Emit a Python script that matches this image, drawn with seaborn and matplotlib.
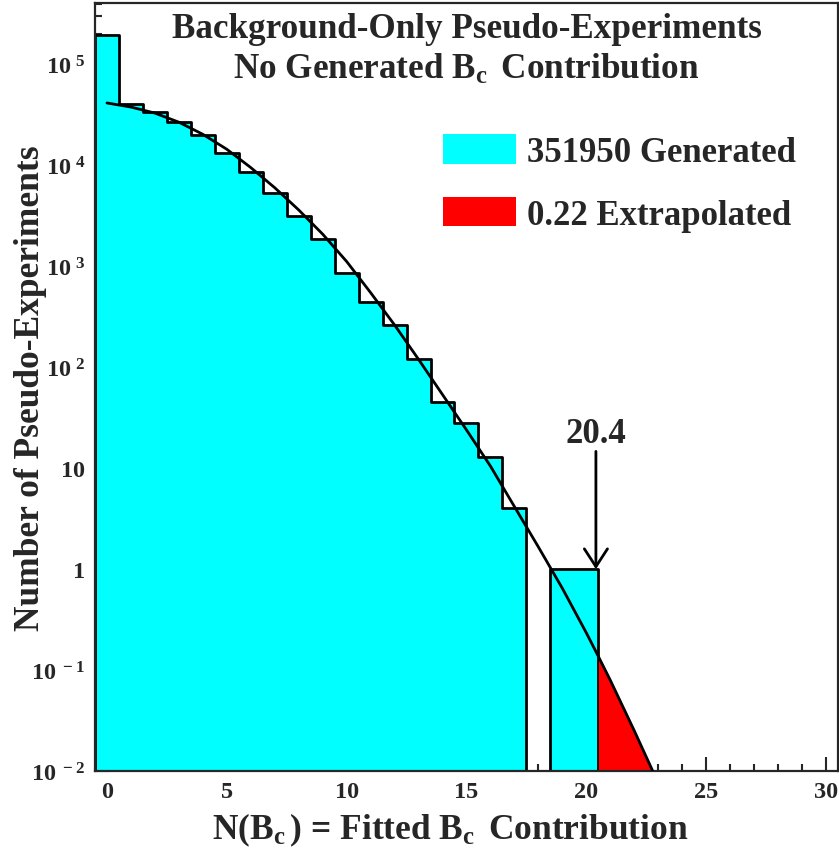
import numpy as np
import pandas as pd
import matplotlib
matplotlib.use("Agg")
import matplotlib.pyplot as plt
from matplotlib.patches import Patch
from matplotlib.ticker import FixedLocator, LogLocator, MultipleLocator, NullFormatter
import seaborn as sns

# --- data ---
# pseudo-experiment histogram, one bin per integer value of N(Bc)
bin_centers = list(range(0, 21))
counts = [194817, 41100, 34300, 27300, 20300, 13200, 8730, 5400, 3130, 1890,
          870, 440, 261, 120, 45, 28, 13, 4, 0, 1, 1]

# fitted curve (read at integer points)
fit_x = [0, 1, 2, 3, 4, 5, 6, 7, 8, 9, 10, 11, 12, 13, 14, 15, 16, 17, 18,
         19, 20, 20.5, 21, 22, 22.77]
fit_y = [41700, 38000, 33100, 26900, 20400, 14500, 9550, 6030, 3630, 2090,
         1120, 550, 263, 120, 53.7, 24.0, 10.5, 4.17, 1.66,
         0.646, 0.234, 0.137, 0.0794, 0.0251, 0.01]

cut_value = 20.4
n_generated = 351950
n_extrapolated = 0.22

xtick_vals = [0, 5, 10, 15, 20, 25, 30]
ytick_vals = [1e-2, 1e-1, 1, 10, 1e2, 1e3, 1e4, 1e5]
ytick_labels = [r"$10^{\ -2}$", r"$10^{\ -1}$", r"$1\ \ $", r"$10\ \ $",
                r"$10^{\ 2}$", r"$10^{\ 3}$", r"$10^{\ 4}$", r"$10^{\ 5}$"]

df = pd.DataFrame({"n": bin_centers, "count": counts})

# --- style ---
sns.set_style("ticks")
plt.rcParams["font.family"] = ["Liberation Serif", "DejaVu Serif"]
plt.rcParams["font.weight"] = "bold"
plt.rcParams["mathtext.fontset"] = "custom"
plt.rcParams["mathtext.bf"] = "Liberation Serif:bold"
plt.rcParams["mathtext.rm"] = "Liberation Serif:bold"
plt.rcParams["mathtext.it"] = "Liberation Serif:bold"
plt.rcParams["mathtext.default"] = "bf"

fig = plt.figure(figsize=(8.39, 8.54), dpi=100)
ax = fig.add_axes([0.1132, 0.096, 0.8856, 0.8993])
ax.set_yscale("log")

sns.histplot(data=df, x="n", weights="count", discrete=True, element="step", fill=True,
             color="cyan", alpha=1, edgecolor="black", linewidth=2, ax=ax)

# extrapolated tail beyond the observed value
tail_x = [x for x in fit_x if x >= 20.5]
tail_y = [y for x, y in zip(fit_x, fit_y) if x >= 20.5]
ax.fill_between(tail_x, tail_y, 0.01, color="red", lw=0, zorder=2)

sns.lineplot(x=fit_x, y=fit_y, color="black", lw=2, ax=ax, zorder=3)

ax.annotate("", xy=(cut_value, 1), xytext=(cut_value, 14.7),
            arrowprops=dict(arrowstyle="->,head_length=0.4,head_width=0.26",
                            lw=2, color="black", mutation_scale=32,
                            shrinkA=0, shrinkB=0))
ax.text(cut_value, 18.1, f"{cut_value}", ha="center", va="baseline", fontsize=25,
        fontweight="bold")

ax.set_xlim(-0.5, 30.5)
ax.set_ylim(0.01, 4.08e5)

ax.xaxis.set_major_locator(FixedLocator(xtick_vals))
ax.set_xticklabels([str(v) for v in xtick_vals])
ax.xaxis.set_minor_locator(MultipleLocator(1))
ax.yaxis.set_major_locator(FixedLocator(ytick_vals))
ax.set_yticklabels(ytick_labels)
ax.yaxis.set_minor_locator(LogLocator(base=10, subs=np.arange(2, 10)))
ax.yaxis.set_minor_formatter(NullFormatter())

ax.tick_params(which="both", direction="in", top=False, right=False, width=1.5)
ax.tick_params(which="major", length=10, labelsize=17.5)
ax.tick_params(which="minor", length=5)
ax.tick_params(axis="x", pad=7)
ax.tick_params(axis="y", pad=7)
for s in ax.spines.values():
    s.set_linewidth(1.6)
    s.set_visible(True)

ax.set_xlabel(r"N($B_c\,$) = Fitted $B_c\,$ Contribution", fontsize=25.5, fontweight="bold")
ax.xaxis.set_label_coords(0.478, -0.052)
ax.set_ylabel("Number of Pseudo-Experiments", fontsize=25.5, fontweight="bold")
ax.yaxis.set_label_coords(-0.064, 0.5)

ax.text(0.5, 0.956, "Background-Only Pseudo-Experiments", transform=ax.transAxes,
        ha="center", va="baseline", fontsize=25.3, fontweight="bold")
ax.text(0.5, 0.902, r"No Generated $B_c\,$ Contribution", transform=ax.transAxes,
        ha="center", va="baseline", fontsize=25.3, fontweight="bold")

handles = [Patch(facecolor="cyan", edgecolor="none", label=f"{n_generated} Generated"),
           Patch(facecolor="red", edgecolor="none", label=f"{n_extrapolated} Extrapolated")]
ax.legend(handles=handles, loc="upper left", bbox_to_anchor=(0.469, 0.829),
          frameon=False, prop={"size": 25, "weight": "bold"}, handlelength=2.08,
          handleheight=0.93, handletextpad=0.33, labelspacing=0.8, borderpad=0,
          borderaxespad=0)

fig.savefig("out.png", dpi=100)
